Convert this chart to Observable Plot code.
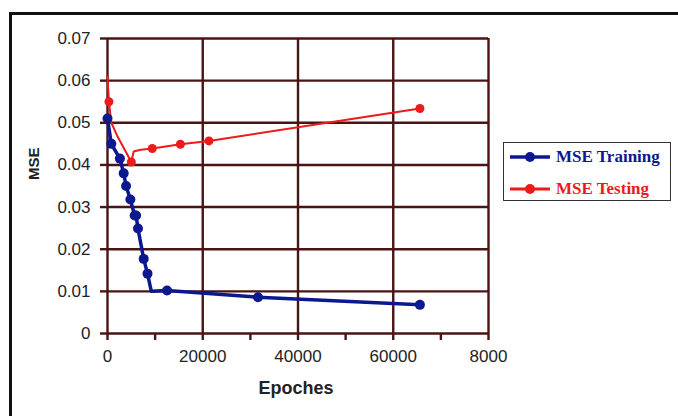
<!DOCTYPE html>
<html><head><meta charset="utf-8">
<script src="https://cdn.jsdelivr.net/npm/d3@7"></script>
<script src="https://cdn.jsdelivr.net/npm/@observablehq/plot@0.6"></script>
<style>
body{margin:0;background:#fff;}
#wrap{position:relative;width:678px;height:416px;overflow:hidden;background:#fff;}
#frame{position:absolute;left:9px;top:12px;width:700px;height:500px;border-left:3px solid #111;border-top:3px solid #111;pointer-events:none;}
#legend{position:absolute;left:503px;top:142px;width:166px;height:57px;border:1px solid #333;background:#fff;font-family:"Liberation Serif","Times New Roman",serif;font-weight:bold;font-size:17px;}
.row{position:absolute;left:6px;height:20px;display:flex;align-items:center;}
.row svg{margin-right:4px;}
</style></head>
<body>
<div id="wrap">
<div id="chart"></div>
<div id="frame"></div>
<div id="legend"></div>
</div>
<script>
// Data
const trainEpochs = [0, 800, 2600, 3400, 3900, 4800, 5700, 6000, 6400, 7600, 8400, 9200, 12500, 31600, 65600];
const trainMSE    = [0.051, 0.045, 0.0415, 0.038, 0.035, 0.0318, 0.028, 0.028, 0.0249, 0.0177, 0.0142, 0.0100, 0.0102, 0.0086, 0.0068];
const trainMarker = [1, 1, 1, 1, 1, 1, 1, 1, 1, 1, 1, 0, 1, 1, 1];
const testEpochs  = [0, 300, 800, 2000, 5000, 5500, 7000, 9400, 15300, 21300, 65600];
const testMSE     = [0.061, 0.055, 0.050, 0.047, 0.0407, 0.0432, 0.0436, 0.0439, 0.0449, 0.0457, 0.0534];
const testMarker  = [0, 1, 0, 0, 1, 0, 0, 1, 1, 1, 1];
const seriesNames = ["MSE Training", "MSE Testing"];
const xTicks = [0, 20000, 40000, 60000, 80000];
const xTickLabels = ["0", "20000", "40000", "60000", "8000"];
const xMinorTicks = [0, 10000, 20000, 30000, 40000, 50000, 60000, 70000, 80000];
const yTicks = [0, 0.01, 0.02, 0.03, 0.04, 0.05, 0.06, 0.07];
const yTickLabels = ["0", "0.01", "0.02", "0.03", "0.04", "0.05", "0.06", "0.07"];
const xLabel = "Epoches";
const yLabel = "MSE";

const blue = "#0c1890";
const red = "#ee1a1a";
const grid = "#4a1414";

const train = trainEpochs.map((e, i) => ({epoch: e, mse: trainMSE[i], m: trainMarker[i]}));
const test = testEpochs.map((e, i) => ({epoch: e, mse: testMSE[i], m: testMarker[i]}));
const xMap = new Map(xTicks.map((t, i) => [t, xTickLabels[i]]));
const yMap = new Map(yTicks.map((t, i) => [t, yTickLabels[i]]));

const chart = Plot.plot({
  width: 678, height: 416,
  marginLeft: 107, marginRight: 190, marginTop: 38, marginBottom: 83,
  x: {domain: [0, 80000]},
  y: {domain: [0, 0.07]},
  style: {fontFamily: "'Liberation Sans', Arial, sans-serif", fontSize: "17px", color: "#222", background: "transparent"},
  marks: [
    Plot.ruleY(yTicks, {stroke: grid, strokeWidth: 2.4}),
    Plot.ruleX(xTicks, {stroke: grid, strokeWidth: 2.4}),
    Plot.axisY({ticks: yTicks, tickFormat: d => yMap.get(d), tickSize: 7, tickPadding: 10, stroke: grid, strokeWidth: 2.4, fill: "#222", label: null}),
    Plot.axisX({ticks: xMinorTicks, tickFormat: () => "", tickSize: 7, stroke: grid, strokeWidth: 2.4, label: null}),
    Plot.axisX({ticks: xTicks, tickFormat: d => xMap.get(d), tickSize: 0, tickPadding: 16, fill: "#222", label: null}),
    Plot.line(test, {x: "epoch", y: "mse", stroke: red, strokeWidth: 2}),
    Plot.dot(test, {filter: d => d.m, x: "epoch", y: "mse", r: 4.5, fill: red}),
    Plot.line(train, {x: "epoch", y: "mse", stroke: blue, strokeWidth: 3.5}),
    Plot.dot(train, {filter: d => d.m, x: "epoch", y: "mse", r: 5, fill: blue}),
    Plot.text([xLabel], {frameAnchor: "bottom", dy: 60, dx: -2, fontWeight: "bold", fontSize: 18, fill: "#222"}),
    Plot.text([yLabel], {frameAnchor: "left", rotate: -90, dx: -73, dy: -6, fontWeight: "bold", fontSize: 15, fill: "#222"})
  ]
});
document.getElementById("chart").appendChild(chart);

// Legend
const legend = document.getElementById("legend");
const colors = [blue, red];
const widths = [3.5, 3];
[14, 46].forEach((cy, i) => {
  const row = document.createElement("div");
  row.className = "row";
  row.style.top = (cy - 10) + "px";
  row.style.color = colors[i];
  row.innerHTML = `<svg width="42" height="14"><line x1="0" x2="40" y1="7" y2="7" stroke="${colors[i]}" stroke-width="${widths[i]}"/><circle cx="20" cy="7" r="5" fill="${colors[i]}"/></svg><span>${seriesNames[i]}</span>`;
  legend.appendChild(row);
});
</script>
</body></html>
